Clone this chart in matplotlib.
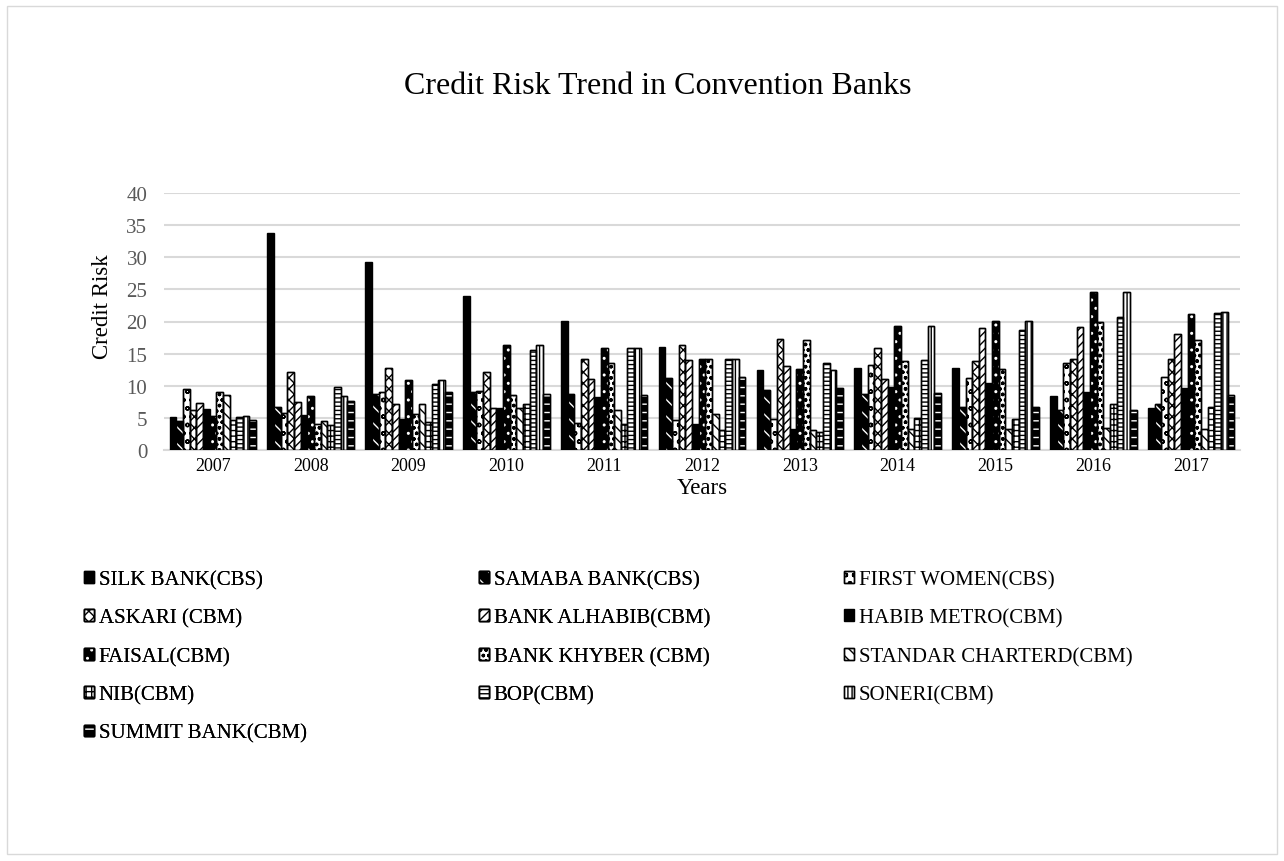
import numpy as np
import matplotlib.pyplot as plt
from matplotlib.patches import Patch, Rectangle
from matplotlib.legend_handler import HandlerTuple

plt.rcParams['font.family'] = ['Liberation Serif', 'DejaVu Serif']
plt.rcParams['hatch.linewidth'] = 1.0

years = ['2007', '2008', '2009', '2010', '2011', '2012', '2013', '2014', '2015', '2016', '2017']

banks = ['SILK BANK(CBS)', 'SAMABA BANK(CBS)', 'FIRST WOMEN(CBS)', 'ASKARI (CBM)',
         'BANK ALHABIB(CBM)', 'HABIB METRO(CBM)', 'FAISAL(CBM)', 'BANK KHYBER (CBM)',
         'STANDAR CHARTERD(CBM)', 'NIB(CBM)', 'BOP(CBM)', 'SONERI(CBM)', 'SUMMIT BANK(CBM)']

silk = [5.2, 33.7, 29.3, 24.0, 20.1, 16.1, 12.4, 12.75, 12.75, 8.4, 6.55]
samaba = [4.5, 6.7, 8.75, 9.0, 8.7, 11.25, 9.4, 8.75, 6.7, 6.15, 7.1]
first_women = [9.5, 5.8, 9.0, 9.2, 4.2, 4.7, 4.8, 13.3, 11.25, 13.5, 11.4]
askari = [6.3, 12.2, 12.8, 12.1, 14.1, 16.35, 17.2, 15.8, 13.85, 14.1, 14.1]
alhabib = [7.3, 7.4, 7.2, 6.6, 11.0, 14.0, 13.1, 11.0, 19.0, 19.2, 18.1]
habib_metro = [6.4, 5.5, 4.8, 6.6, 8.2, 4.1, 3.2, 9.8, 10.4, 9.1, 9.7]
faisal = [5.3, 8.4, 10.9, 16.4, 15.8, 14.2, 12.55, 19.3, 20.1, 24.6, 21.2]
khyber = [9.1, 4.1, 5.6, 8.5, 13.5, 14.2, 17.1, 13.85, 12.65, 19.85, 17.1]
standard = [8.6, 4.5, 7.1, 6.5, 6.25, 5.6, 3.1, 3.2, 3.2, 3.4, 3.2]
nib = [4.6, 3.9, 4.3, 7.1, 4.1, 3.1, 2.8, 5.0, 4.9, 7.2, 6.7]
bop = [5.1, 9.8, 10.2, 15.6, 15.8, 14.2, 13.5, 14.0, 18.65, 20.7, 21.25]
soneri = [5.3, 8.4, 10.9, 16.4, 15.8, 14.2, 12.5, 19.3, 20.1, 24.6, 21.5]
summit = [4.7, 7.6, 9.0, 8.7, 8.6, 11.3, 9.7, 8.85, 6.7, 6.2, 8.5]

series = [silk, samaba, first_women, askari, alhabib, habib_metro, faisal,
          khyber, standard, nib, bop, soneri, summit]

# (face colour, hatch, hatch colour) - rough stand-ins for the excel pattern fills
styles = [
    ('black', None, 'black'),
    ('black', '\\\\', 'white'),
    ('white', 'oo', 'black'),
    ('white', 'xxx', 'black'),
    ('white', '////', 'black'),
    ('black', None, 'black'),
    ('black', '..', 'white'),
    ('white', 'ooo', 'black'),
    ('white', '\\\\\\', 'black'),
    ('white', '+++', 'black'),
    ('white', '----', 'black'),
    ('white', '||||', 'black'),
    ('black', '--', 'white'),
]

fig = plt.figure(figsize=(12.84, 8.62), dpi=100)
ax = fig.add_axes([164 / 1284, 1 - 451 / 862, (1240 - 164) / 1284, (451 - 194) / 862])

x = np.arange(len(years))
width = 0.068
n = len(series)
handles = []
for i, (vals, (face, hatch, hcol)) in enumerate(zip(series, styles)):
    pos = x + (i - (n - 1) / 2) * width
    ax.bar(pos, vals, width, color=face, edgecolor='black', linewidth=1.0, zorder=3)
    h1 = Patch(facecolor=face, edgecolor='black', linewidth=1.0)
    if hatch:
        ax.bar(pos, vals, width, color='none', edgecolor=hcol, hatch=hatch, linewidth=0, zorder=4)
        ax.bar(pos, vals, width, color='none', edgecolor='black', linewidth=1.0, zorder=5)
        h2 = Patch(facecolor='none', edgecolor=hcol, hatch=hatch, linewidth=0)
        h3 = Patch(facecolor='none', edgecolor='black', linewidth=1.0)
        handles.append((h1, h2, h3))
    else:
        handles.append((h1,))

ax.set_ylim(0, 40)
ax.set_xlim(-0.5, len(years) - 0.5)
ax.set_yticks(np.arange(0, 41, 5))
ax.set_xticks(x)
ax.set_xticklabels(years)
ax.yaxis.grid(True, color='#d9d9d9', linewidth=1.5, zorder=0)
ax.set_axisbelow(True)
for s in ['top', 'right', 'left']:
    ax.spines[s].set_visible(False)
ax.spines['bottom'].set_color('#d9d9d9')
ax.spines['bottom'].set_linewidth(1.5)
ax.tick_params(axis='both', length=0, colors='#595959')
ax.tick_params(axis='x', pad=5, labelcolor='black', labelsize=13)
ax.tick_params(axis='y', pad=12, labelsize=15)
ax.set_xlabel('Years', fontsize=16.5, labelpad=2)

fig.text(102 / 1284, 1 - 307 / 862, 'Credit Risk', rotation=90, ha='center', va='center', fontsize=16.5)
fig.text(658 / 1284, 1 - 87 / 862, 'Credit Risk Trend in Convention Banks', ha='center', va='center', fontsize=23)

# legend laid out row by row in three columns like excel does it
col_x = [84, 479, 844]
for c in range(3):
    idx = list(range(c, n, 3))
    leg = fig.legend([handles[k] for k in idx], [banks[k] for k in idx],
                     handler_map={tuple: HandlerTuple(ndivide=1, pad=0)},
                     loc='upper left', bbox_to_anchor=(col_x[c] / 1284, 1 - 571 / 862),
                     frameon=False, fontsize=15, handlelength=0.5, handleheight=0.5,
                     handletextpad=0.2, labelspacing=0.92, borderaxespad=0, borderpad=0)
    if c < 2:
        fig.add_artist(leg)

fig.add_artist(Rectangle((7 / 1284, 7 / 862), 1270 / 1284, 848 / 862, transform=fig.transFigure,
                         fill=False, edgecolor='#d9d9d9', linewidth=1.0))

fig.savefig('out.png', dpi=100)
